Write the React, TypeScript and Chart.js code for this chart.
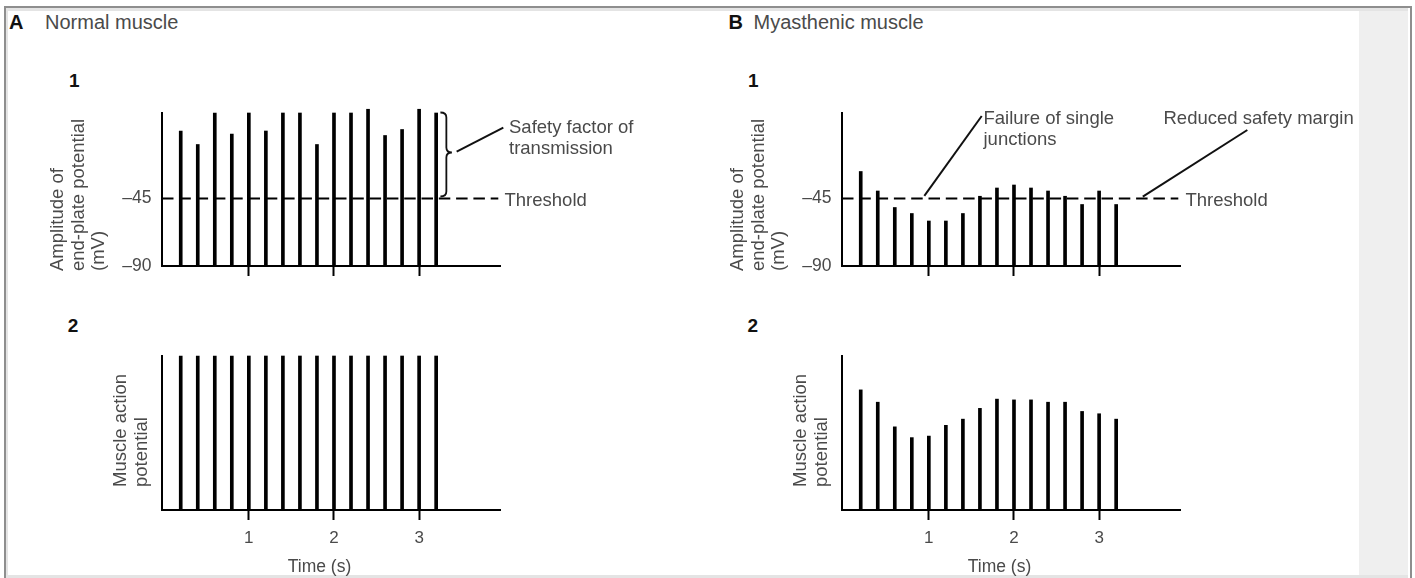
import React, { useEffect, useRef } from 'react';
import { Chart, registerables } from 'chart.js';

Chart.register(...registerables);

// ---------------- data ----------------
const stimulusTimes = [0.2, 0.4, 0.6, 0.8, 1.0, 1.2, 1.4, 1.6, 1.8, 2.0, 2.2, 2.4, 2.6, 2.8, 3.0, 3.2];
const normalEndPlate = [0, -9, 12, -2, 12, 0, 12, 12, -9, 12, 12, 14.5, -3, 1, 14.5, 12];
const myasthenicEndPlate = [-27, -40, -51, -55, -60, -60, -55, -43.5, -38, -36, -38, -40, -43.5, -49, -40, -49];
const normalActionPotential = [100, 100, 100, 100, 100, 100, 100, 100, 100, 100, 100, 100, 100, 100, 100, 100];
const myasthenicActionPotential = [78, 70, 54, 47, 48, 55, 59, 66, 72, 71.5, 71.5, 70, 70, 64, 62.5, 59];
const thresholdMv = -45;
const endPlateRange = [-90, 12];
const endPlateTicks = [-90, -45];
const endPlateTickLabels = ['\u201390', '\u201345'];
const actionRange = [0, 100];
const timeRange = [-0.02, 3.95];
const thresholdSpan = [-0.02, 3.93];
const timeTicks = [1, 2, 3];
const timeTickLabels = ['1', '2', '3'];
const endPlateTitle = ['Amplitude of', 'end-plate potential', '(mV)'];
const actionTitle = ['Muscle action', 'potential'];
const timeTitle = 'Time (s)';

// ---------------- styling ----------------
const FONT = '"Liberation Sans", Arial, Helvetica, sans-serif';
const GREY = '#4a4a4a';
const INK = '#111';

function txt(ctx: CanvasRenderingContext2D, s: string, x: number, y: number, size = 18.5, align: CanvasTextAlign = 'left', color = GREY) {
  ctx.save();
  ctx.font = `${size}px ${FONT}`;
  ctx.fillStyle = color;
  ctx.textAlign = align;
  ctx.textBaseline = 'alphabetic';
  ctx.fillText(s, x, y);
  ctx.restore();
}

function seg(ctx: CanvasRenderingContext2D, x1: number, y1: number, x2: number, y2: number, w = 2) {
  ctx.save();
  ctx.strokeStyle = INK;
  ctx.lineWidth = w;
  ctx.beginPath();
  ctx.moveTo(x1, y1);
  ctx.lineTo(x2, y2);
  ctx.stroke();
  ctx.restore();
}

function yTitle(ctx: CanvasRenderingContext2D, lines: string[], x0: number, gap: number, yStart: number) {
  lines.forEach((s, i) => {
    ctx.save();
    ctx.translate(x0 + i * gap, yStart);
    ctx.rotate(-Math.PI / 2);
    txt(ctx, s, 0, 0, 18.5);
    ctx.restore();
  });
}

type PanelSpec = {
  left: number;
  top: number;
  width: number;
  height: number;
  values: number[];
  range: number[];
  yTicks: number[];
  threshold: boolean;
  timeLabels: boolean;
  padTop: number;
  xAxisHeight: number;
  draw: (chart: any) => void;
};

function buildChart(canvas: HTMLCanvasElement, p: PanelSpec) {
  const datasets: any[] = [
    {
      type: 'bar',
      data: stimulusTimes.map((t, i) => ({ x: t, y: [p.range[0], p.values[i]] })),
      backgroundColor: '#000',
      borderWidth: 0,
      barThickness: 3,
      clip: false,
      order: 2,
    },
  ];
  if (p.threshold) {
    datasets.push({
      type: 'line',
      data: thresholdSpan.map((t) => ({ x: t, y: thresholdMv })),
      borderColor: '#000',
      borderWidth: 2,
      borderDash: [11.5, 5.8],
      pointRadius: 0,
      fill: false,
      tension: 0,
      order: 1,
    });
  }
  return new Chart(canvas, {
    type: 'bar',
    data: { datasets },
    options: {
      animation: false,
      responsive: false,
      devicePixelRatio: 1,
      events: [],
      layout: { padding: { left: 102, right: 200, top: p.padTop, bottom: 0 } },
      plugins: { legend: { display: false }, tooltip: { enabled: false }, title: { display: false } },
      scales: {
        x: {
          type: 'linear',
          min: timeRange[0],
          max: timeRange[1],
          offset: false,
          afterBuildTicks: (s: any) => {
            s.ticks = timeTicks.map((v) => ({ value: v }));
          },
          afterFit: (s: any) => {
            s.height = p.xAxisHeight;
          },
          grid: {
            display: true,
            offset: false,
            drawOnChartArea: false,
            drawTicks: true,
            tickLength: 10,
            tickWidth: 2,
            tickColor: '#000',
          },
          border: { display: true, color: '#000', width: 2 },
          ticks: {
            display: p.timeLabels,
            padding: 8,
            color: GREY,
            maxRotation: 0,
            autoSkip: false,
            font: { family: FONT, size: 17 },
            callback: (v: any) => timeTickLabels[timeTicks.indexOf(Number(v))] ?? '',
          },
        },
        y: {
          type: 'linear',
          min: p.range[0],
          max: p.range[1],
          afterBuildTicks: (s: any) => {
            if (p.yTicks.length) s.ticks = p.yTicks.map((v) => ({ value: v }));
          },
          afterFit: (s: any) => {
            s.width = 60;
          },
          grid: { display: false, drawTicks: false, tickLength: 0 },
          border: { display: true, color: '#000', width: 2 },
          ticks: {
            display: p.yTicks.length > 0,
            padding: 10.5,
            color: GREY,
            font: { family: FONT, size: 17.5 },
            callback: (v: any) => endPlateTickLabels[endPlateTicks.indexOf(Number(v))] ?? '',
          },
        },
      },
    } as any,
    plugins: [
      {
        id: 'figureAnnotations',
        afterDraw: (chart: any) => p.draw(chart),
      },
    ],
  } as any);
}

function scalesOf(chart: any) {
  const x = chart.scales.x;
  const y = chart.scales.y;
  return {
    xp: (v: number) => x.getPixelForValue(v),
    yp: (v: number) => y.getPixelForValue(v),
    a: chart.chartArea,
    ctx: chart.ctx as CanvasRenderingContext2D,
  };
}

const drawTimeTitle = (chart: any) => {
  const { xp, a, ctx } = scalesOf(chart);
  txt(ctx, timeTitle, xp(1.83), a.bottom + 62.3, 17.5, 'center');
};

const panels: PanelSpec[] = [
  {
    left: 0,
    top: 90,
    width: 700,
    height: 200,
    values: normalEndPlate,
    range: endPlateRange,
    yTicks: endPlateTicks,
    threshold: true,
    timeLabels: false,
    padTop: 23,
    xAxisHeight: 24,
    draw: (chart) => {
      const { xp, yp, a, ctx } = scalesOf(chart);
      yTitle(ctx, endPlateTitle, a.left - 99, 20.5, a.bottom + 5);
      // brace
      const bx0 = xp(3.25);
      const bx1 = xp(3.32);
      const bx2 = xp(3.385);
      const by0 = yp(endPlateRange[1]) - 0.5;
      const by2 = yp(thresholdMv) - 2;
      const by1 = (by0 + by2) / 2 - 2;
      ctx.save();
      ctx.strokeStyle = INK;
      ctx.lineWidth = 1.8;
      ctx.beginPath();
      ctx.moveTo(bx0, by0);
      ctx.quadraticCurveTo(bx1, by0, bx1, by0 + 5);
      ctx.lineTo(bx1, by1 - 5);
      ctx.quadraticCurveTo(bx1, by1, bx2, by1);
      ctx.quadraticCurveTo(bx1, by1, bx1, by1 + 5);
      ctx.lineTo(bx1, by2 - 5);
      ctx.quadraticCurveTo(bx1, by2, bx0, by2);
      ctx.stroke();
      ctx.restore();
      seg(ctx, xp(3.441), yp(-13.8), xp(3.989), yp(2.2));
      txt(ctx, 'Safety factor of', xp(4.056), yp(-1.5));
      txt(ctx, 'transmission', xp(4.056), yp(-15.3));
      txt(ctx, 'Threshold', xp(4.003), yp(-50.3));
    },
  },
  {
    left: 680,
    top: 90,
    width: 700,
    height: 200,
    values: myasthenicEndPlate,
    range: endPlateRange,
    yTicks: endPlateTicks,
    threshold: true,
    timeLabels: false,
    padTop: 23,
    xAxisHeight: 24,
    draw: (chart) => {
      const { xp, yp, a, ctx } = scalesOf(chart);
      yTitle(ctx, endPlateTitle, a.left - 99, 20.5, a.bottom + 5);
      seg(ctx, xp(1.621), yp(10), xp(0.947), yp(-43.3));
      txt(ctx, 'Failure of single', xp(1.642), yp(4.5));
      txt(ctx, 'junctions', xp(1.642), yp(-9.3));
      seg(ctx, xp(4.741), yp(0.67), xp(3.513), yp(-43.8));
      txt(ctx, 'Reduced safety margin', xp(3.756), yp(4.7));
      txt(ctx, 'Threshold', xp(4.014), yp(-49.7));
    },
  },
  {
    left: 0,
    top: 330,
    width: 700,
    height: 248,
    values: normalActionPotential,
    range: actionRange,
    yTicks: [],
    threshold: false,
    timeLabels: true,
    padTop: 26,
    xAxisHeight: 68,
    draw: (chart) => {
      const { a, ctx } = scalesOf(chart);
      yTitle(ctx, actionTitle, a.left - 36, 20.5, a.bottom - 23);
      drawTimeTitle(chart);
    },
  },
  {
    left: 680,
    top: 330,
    width: 700,
    height: 248,
    values: myasthenicActionPotential,
    range: actionRange,
    yTicks: [],
    threshold: false,
    timeLabels: true,
    padTop: 26,
    xAxisHeight: 68,
    draw: (chart) => {
      const { a, ctx } = scalesOf(chart);
      yTitle(ctx, actionTitle, a.left - 36, 20.5, a.bottom - 23);
      drawTimeTitle(chart);
    },
  },
];

function PanelCanvas({ spec }: { spec: PanelSpec }) {
  const ref = useRef<HTMLCanvasElement | null>(null);
  useEffect(() => {
    if (!ref.current) return;
    const chart = buildChart(ref.current, spec);
    return () => chart.destroy();
  }, [spec]);
  return (
    <canvas
      ref={ref}
      width={spec.width}
      height={spec.height}
      style={{ position: 'absolute', left: spec.left, top: spec.top, width: spec.width, height: spec.height }}
    />
  );
}

function Label({ text, left, top, size, bold, color }: { text: string; left: number; top: number; size: number; bold?: boolean; color: string }) {
  return (
    <div
      style={{
        position: 'absolute',
        left,
        top,
        fontFamily: FONT,
        fontSize: size,
        lineHeight: `${size}px`,
        fontWeight: bold ? 'bold' : 'normal',
        color,
        whiteSpace: 'nowrap',
      }}
    >
      {text}
    </div>
  );
}

export default function App() {
  return (
    <div
      style={{
        position: 'absolute',
        left: 0,
        top: 0,
        width: 1415,
        height: 578,
        background: '#fff',
        overflow: 'hidden',
      }}
    >
      {/* frame */}
      <div style={{ position: 'absolute', left: 4, top: 6, width: 1404, height: 580, borderLeft: '2px solid #8e8e8e', borderTop: '2px solid #8e8e8e', borderRight: '2px solid #8e8e8e' }} />
      <div style={{ position: 'absolute', left: 6, top: 8, width: 1402, height: 3, background: '#e4e4e4' }} />
      <div style={{ position: 'absolute', left: 6, top: 8, width: 2, height: 570, background: '#e4e4e4' }} />
      <div style={{ position: 'absolute', left: 6, top: 575, width: 1402, height: 3, background: '#e4e4e4' }} />
      <div style={{ position: 'absolute', left: 1359, top: 11, width: 49, height: 564, background: '#efefef' }} />

      {/* headers */}
      <Label text="A" left={9} top={12.4} size={20} bold color={INK} />
      <Label text="Normal muscle" left={45} top={12.4} size={20} color={GREY} />
      <Label text="B" left={728.5} top={12.4} size={20} bold color={INK} />
      <Label text="Myasthenic muscle" left={753.5} top={12.4} size={20} color={GREY} />
      <Label text="1" left={69} top={71.2} size={19} bold color={INK} />
      <Label text="1" left={748} top={71.2} size={19} bold color={INK} />
      <Label text="2" left={67.7} top={315.6} size={19} bold color={INK} />
      <Label text="2" left={747.5} top={315.6} size={19} bold color={INK} />

      {panels.map((p, i) => (
        <PanelCanvas key={i} spec={p} />
      ))}
    </div>
  );
}
